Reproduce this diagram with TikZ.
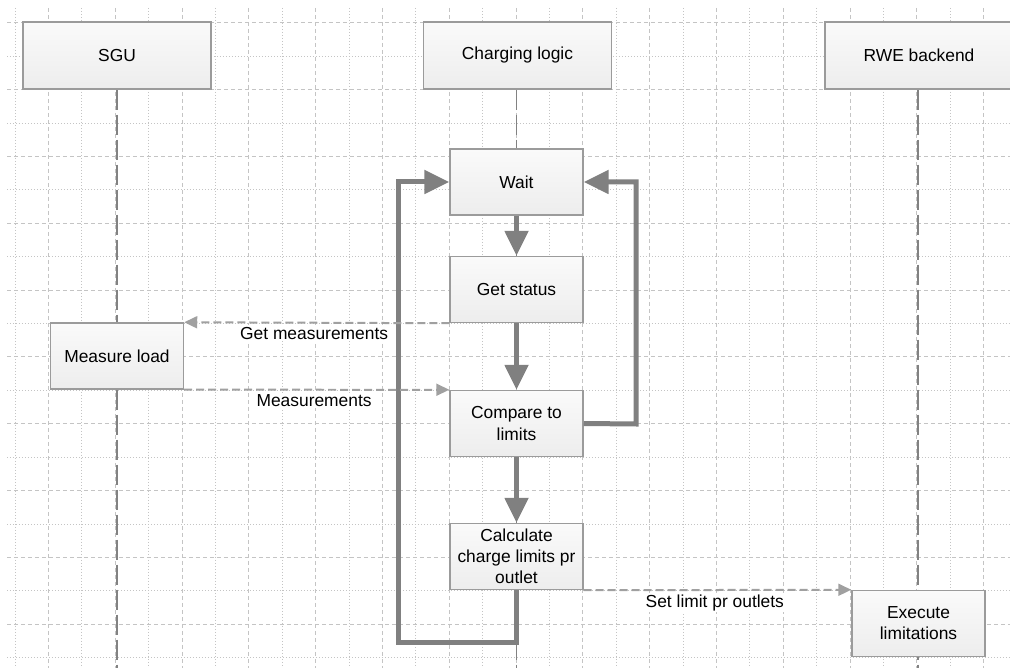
\documentclass[tikz,border=0pt]{standalone}
\usepackage{fontspec}
\setmainfont{Liberation Sans}
\usepackage{tikz}
\usetikzlibrary{arrows.meta, backgrounds}
\definecolor{gridgray}{RGB}{196,196,196}
\definecolor{lifegray}{RGB}{130,130,130}
\definecolor{flowgray}{RGB}{128,128,128}
\definecolor{msggray}{RGB}{160,160,160}
\definecolor{boxline}{RGB}{155,155,155}
\definecolor{boxbottom}{RGB}{237,237,237}

\begin{document}
\begin{tikzpicture}[x=0.02cm, y=-0.02cm, font=\fontsize{9.9}{12}\selectfont,
  box/.style={draw=boxline, line width=0.03cm, top color=white!98!black, bottom color=boxbottom, align=center, inner sep=0pt},
  headbox/.style={box, minimum width=3.76cm, minimum height=1.34cm},
  actbox/.style={box, minimum width=2.66cm, minimum height=1.32cm},
  flow/.style={line width=0.1cm, flowgray, -{Triangle[length=0.5cm, width=0.46cm]}},
  msg/.style={line width=0.04cm, msggray, dash pattern=on 0.16cm off 0.08cm, -{Triangle[length=0.26cm, width=0.24cm]}},
  lbl/.style={fill=white, inner sep=1pt, text=black},
  life/.style={line width=0.035cm, lifegray, dash pattern=on 0.4cm off 0.1cm},
  gridmaj/.style={gridgray, line width=0.02cm, dash pattern=on 0.08cm off 0.06cm},
  gridmin/.style={gridgray, line width=0.02cm, dash pattern=on 0.02cm off 0.04cm}]
  \useasboundingbox (0,0) rectangle (1010,668);
  \coordinate (bottom) at (0,668);

  \node[headbox] (sgu) at (117,55.5) {SGU};
  \node[headbox] (logic) at (517.5,55.5) {Charging logic};
  \node[headbox] (rwe) at (919,55.5) {RWE backend};

  \node[actbox] (wait) at (516.5,182) {Wait};
  \node[actbox] (status) at (516.5,289.5) {Get status};
  \node[actbox] (measure) at (117,356) {Measure load};
  \node[actbox] (compare) at (516.5,423.5) {Compare to\\limits};
  \node[actbox] (calc) at (516.5,556.5) {Calculate\\charge limits pr\\outlet};
  \node[actbox] (execute) at (918.5,623.5) {Execute\\limitations};

  \begin{scope}[on background layer]
    \foreach \i in {0,...,14} {
      \draw[gridmin] ({15+66.8*\i},8) -- ++(0,660);
      \draw[gridmaj] ({48.4+66.8*\i},8) -- ++(0,660);
    }
    \foreach \j in {0,...,9} {
      \draw[gridmaj] (7,{23+66.8*\j}) -- (1010,{23+66.8*\j});
      \draw[gridmin] (7,{56.4+66.8*\j}) -- (1010,{56.4+66.8*\j});
    }
    \draw[life] (sgu.south) -- (sgu.south |- bottom);
    \draw[life] ([xshift=-0.02cm]logic.south) -- ([xshift=-0.02cm]logic.south |- bottom);
    \draw[life] ([xshift=-0.02cm]rwe.south) -- ([xshift=-0.02cm]rwe.south |- bottom);
  \end{scope}

  \draw[flow] (wait.south) -- (status.north);
  \draw[flow] (status.south) -- (compare.north);
  \draw[flow] (compare.south) -- (calc.north);
  \coordinate (loopR) at (636,424);
  \draw[flow] (compare.east) -- (loopR) |- (wait.east);
  \coordinate (loopL) at (398,642);
  \draw[flow] (calc.south) |- (loopL) |- (wait.west);

  \draw[msg] (status.south west) -- node[lbl, below=1pt, pos=0.51] {Get measurements} (measure.north east);
  \draw[msg] (measure.south east) -- node[lbl, below=1pt, pos=0.49] {Measurements} (compare.north west);
  \draw[msg] (calc.south east) -- node[lbl, below=1pt, pos=0.49] {Set limit pr outlets} (execute.north west);
\end{tikzpicture}
\end{document}
